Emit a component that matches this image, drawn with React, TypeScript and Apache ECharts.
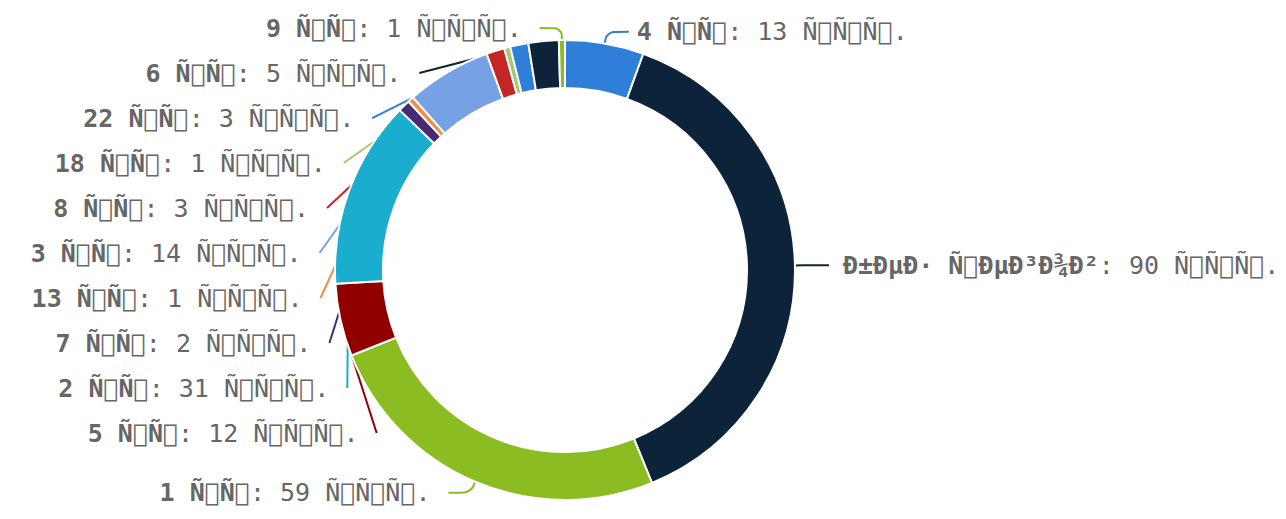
import React, { useEffect, useRef } from "react";
import * as echarts from "echarts";

// Mojibake text pieces (UTF-8 Cyrillic read as Latin-1; undecodable bytes shown as boxes)
const BOX = "\ue000";
const UNIT_TAG = "\u00d1" + BOX + "\u00d1" + BOX;
const UNIT_VAL = "\u00d1" + BOX + "\u00d1" + BOX + "\u00d1" + BOX + ".";
const NO_TAG = "\u00d0\u00b1\u00d0\u00b5\u00d0\u00b7 \u00d1" + BOX + "\u00d0\u00b5\u00d0\u00b3\u00d0\u00be\u00d0\u00b2";

const categories: string[] = [
  "4 " + UNIT_TAG,
  NO_TAG,
  "1 " + UNIT_TAG,
  "5 " + UNIT_TAG,
  "2 " + UNIT_TAG,
  "7 " + UNIT_TAG,
  "13 " + UNIT_TAG,
  "3 " + UNIT_TAG,
  "8 " + UNIT_TAG,
  "18 " + UNIT_TAG,
  "22 " + UNIT_TAG,
  "6 " + UNIT_TAG,
  "9 " + UNIT_TAG,
];
const values: number[] = [13, 90, 59, 12, 31, 2, 1, 14, 3, 1, 3, 5, 1];
const palette: string[] = [
  "#2f7ed8", "#0d233a", "#8bbc21", "#910000", "#1aadce",
  "#492970", "#f28f43", "#77a1e5", "#c42525", "#a6c96a",
];
// label gap to its connector: right-hand labels sit closer
const labelGap: number[] = [8, 14, 18, 18, 18, 18, 18, 18, 18, 18, 18, 18, 18];

export default function App() {
  const ref = useRef<HTMLDivElement>(null);
  useEffect(() => {
    document.body.style.margin = "0";
    const chart = echarts.init(ref.current!, null, { renderer: "svg" });
    chart.setOption({
      animation: false,
      color: palette,
      series: [
        {
          type: "pie",
          center: ["565px", "270px"],
          radius: [182, 230],
          startAngle: 90,
          clockwise: true,
          avoidLabelOverlap: true,
          itemStyle: { borderColor: "#fff", borderWidth: 2 },
          data: categories.map((n, i) => ({
            name: n,
            value: values[i],
            label: { distanceToLabelLine: labelGap[i] },
          })),
          label: {
            show: true,
            position: "outside",
            formatter: (p: any) => "{b|" + p.name + "}{n|: " + p.value + " " + UNIT_VAL + "}",
            distanceToLabelLine: 18,
            minMargin: 20,
            overflow: "none",
            color: "#666666",
            rich: {
              b: { fontFamily: "DejaVu Sans Mono", fontSize: 25, fontWeight: "bold", color: "#666666" },
              n: { fontFamily: "DejaVu Sans Mono", fontSize: 25, color: "#666666" },
            },
          },
          labelLine: {
            show: true,
            length: 12,
            length2: 22,
            smooth: 0.4,
            lineStyle: { width: 2 },
          },
        },
      ],
    });
    return () => chart.dispose();
  }, []);
  return <div ref={ref} style={{ width: 1286, height: 519 }} />;
}
